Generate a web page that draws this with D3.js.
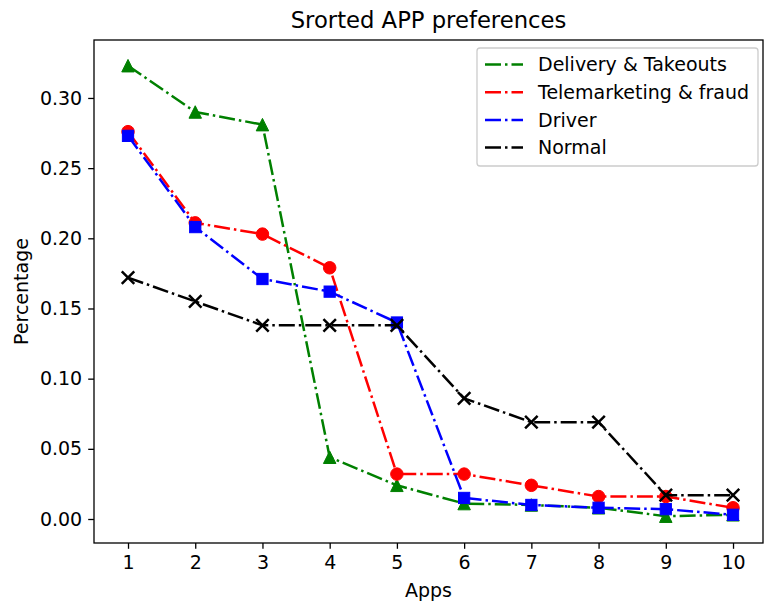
<!DOCTYPE html>
<html>
<head>
<meta charset="utf-8">
<script src="https://cdn.jsdelivr.net/npm/d3@7"></script>
<style>
  html, body { margin: 0; padding: 0; background: #fff; }
  svg { display: block; font-family: "DejaVu Sans", sans-serif; }
</style>
</head>
<body>
<svg id="chart" width="764" height="606"></svg>
<script>
const apps = [1, 2, 3, 4, 5, 6, 7, 8, 9, 10];
const seriesNames = ["Delivery & Takeouts", "Telemarketing & fraud", "Driver", "Normal"];
const delivery = [0.323, 0.290, 0.281, 0.044, 0.024, 0.011, 0.010, 0.008, 0.002, 0.003];
const telemarketing = [0.276, 0.211, 0.203, 0.179, 0.032, 0.032, 0.024, 0.016, 0.016, 0.008];
const driver = [0.273, 0.208, 0.171, 0.162, 0.140, 0.015, 0.010, 0.008, 0.007, 0.003];
const normal = [0.172, 0.155, 0.138, 0.138, 0.138, 0.086, 0.069, 0.069, 0.017, 0.017];
const yTicks = [0.00, 0.05, 0.10, 0.15, 0.20, 0.25, 0.30];
const xTicks = apps;
const colors = ["#008000", "#ff0000", "#0000ff", "#000000"];
const markers = ["triangle", "circle", "square", "x"];
const values = [delivery, telemarketing, driver, normal];

const svg = d3.select("#chart");
const L = 94, R = 763, T = 40, B = 543;

const x = d3.scaleLinear().domain([0.494, 10.446]).range([L, R]);
const y = d3.scaleLinear().domain([-0.0171, 0.3413]).range([B, T]);

const font = "DejaVu Sans, sans-serif";
const fs = "19px";

svg.append("defs").append("clipPath").attr("id", "clip")
  .append("rect").attr("x", L).attr("y", T).attr("width", R - L).attr("height", B - T);

const xAxis = svg.append("g").attr("transform", `translate(0,${B})`)
  .call(d3.axisBottom(x).tickValues(xTicks).tickFormat(d3.format("d")).tickSize(5.8).tickPadding(7));
const yAxis = svg.append("g").attr("transform", `translate(${L},0)`)
  .call(d3.axisLeft(y).tickValues(yTicks).tickFormat(d3.format(".2f")).tickSize(5.8).tickPadding(6));
[xAxis, yAxis].forEach(g => {
  g.select(".domain").remove();
  g.selectAll(".tick line").attr("stroke", "#000").attr("stroke-width", 1.3);
  g.selectAll(".tick text").attr("fill", "#000").style("font-size", fs).style("font-family", font);
});

const line = d3.line().x((d, i) => x(apps[i])).y(d => y(d));
const plot = svg.append("g").attr("clip-path", "url(#clip)");
const dash = "16,4,2.5,4";
const ms = 12.5;

function drawMarker(g, type, cx, cy, color) {
  if (type === "circle") {
    g.append("circle").attr("cx", cx).attr("cy", cy).attr("r", ms / 2)
      .attr("fill", color).attr("stroke", color).attr("stroke-width", 1);
  } else if (type === "square") {
    const s = ms * 0.9;
    g.append("rect").attr("x", cx - s / 2).attr("y", cy - s / 2).attr("width", s).attr("height", s)
      .attr("fill", color).attr("stroke", color).attr("stroke-width", 1);
  } else if (type === "triangle") {
    const h = ms / 2;
    g.append("path").attr("d", `M${cx},${cy - h}L${cx - h},${cy + h}L${cx + h},${cy + h}Z`)
      .attr("fill", color).attr("stroke", color).attr("stroke-width", 1);
  } else if (type === "x") {
    const h = ms / 2;
    g.append("path").attr("d", `M${cx - h},${cy - h}L${cx + h},${cy + h}M${cx - h},${cy + h}L${cx + h},${cy - h}`)
      .attr("fill", "none").attr("stroke", color).attr("stroke-width", 2.5);
  }
}

values.forEach((vals, si) => {
  const g = plot.append("g");
  g.append("path").datum(vals).attr("d", line)
    .attr("fill", "none").attr("stroke", colors[si]).attr("stroke-width", 2.5)
    .attr("stroke-dasharray", dash);
  vals.forEach((v, i) => drawMarker(g, markers[si], x(apps[i]), y(v), colors[si]));
});

svg.append("rect").attr("x", L).attr("y", T).attr("width", R - L).attr("height", B - T)
  .attr("fill", "none").attr("stroke", "#000").attr("stroke-width", 1.3);

svg.append("text").attr("x", (L + R) / 2).attr("y", 28).attr("text-anchor", "middle")
  .style("font-size", "22.7px").style("font-family", font).text("Srorted APP preferences");
svg.append("text").attr("x", (L + R) / 2).attr("y", 597).attr("text-anchor", "middle")
  .style("font-size", fs).style("font-family", font).text("Apps");
svg.append("text").attr("transform", `translate(28,${(T + B) / 2}) rotate(-90)`).attr("text-anchor", "middle")
  .style("font-size", fs).style("font-family", font).text("Percentage");

const lg = svg.append("g");
lg.append("rect").attr("x", 477).attr("y", 48).attr("width", 281).attr("height", 118)
  .attr("rx", 3).attr("fill", "#fff").attr("fill-opacity", 0.8).attr("stroke", "#cccccc").attr("stroke-width", 1.3);
seriesNames.forEach((name, i) => {
  const yy = 64.5 + i * 27.7;
  lg.append("line").attr("x1", 485).attr("x2", 523).attr("y1", yy).attr("y2", yy)
    .attr("stroke", colors[i]).attr("stroke-width", 2.5).attr("stroke-dasharray", dash);
  lg.append("text").attr("x", 538).attr("y", yy).attr("dy", "0.36em")
    .style("font-size", fs).style("font-family", font).text(name);
});
</script>
</body>
</html>
